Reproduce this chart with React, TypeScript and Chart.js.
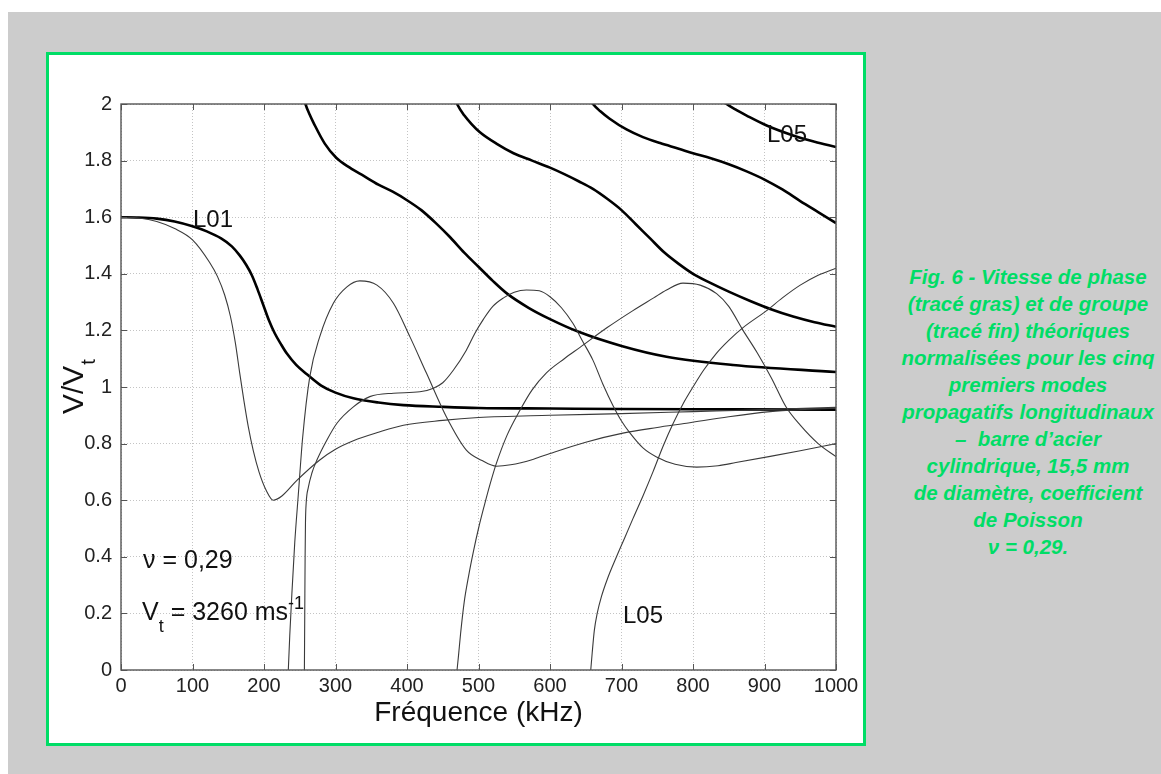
import React, { useEffect, useRef } from "react";
import { Chart, registerables } from "chart.js";

Chart.register(...registerables);

// ---------- data (frequency in kHz, normalised velocity V/Vt) ----------
// phase velocities (thick curves)
const L01_PHASE_F = [0, 25, 50, 75, 100, 120, 140, 155, 166, 175, 183, 191, 199, 207, 215, 224, 232, 245, 260, 280, 300, 325, 360, 395, 450, 500, 600, 700, 850, 1000];
const L01_PHASE_V = [1.6, 1.599, 1.595, 1.585, 1.568, 1.55, 1.525, 1.497, 1.465, 1.432, 1.395, 1.345, 1.29, 1.235, 1.19, 1.15, 1.118, 1.078, 1.045, 1.005, 0.98, 0.96, 0.945, 0.936, 0.93, 0.926, 0.924, 0.922, 0.921, 0.92];

const L02_PHASE_F = [246, 258, 264, 270, 285, 301, 320, 340, 360, 380, 400, 420, 440, 460, 480, 500, 520, 540, 570, 600, 640, 700, 763, 856, 1000];
const L02_PHASE_V = [2.12, 2.0, 1.962, 1.93, 1.86, 1.81, 1.775, 1.745, 1.715, 1.69, 1.66, 1.625, 1.58, 1.53, 1.475, 1.425, 1.375, 1.33, 1.28, 1.24, 1.195, 1.145, 1.107, 1.078, 1.053];

const L03_PHASE_F = [462, 470, 480, 490, 502, 525, 549, 575, 600, 620, 640, 660, 680, 700, 720, 740, 760, 780, 800, 825, 850, 880, 910, 940, 970, 1000];
const L03_PHASE_V = [2.05, 2.0, 1.96, 1.93, 1.9, 1.86, 1.826, 1.8, 1.775, 1.752, 1.727, 1.7, 1.665, 1.625, 1.575, 1.525, 1.475, 1.435, 1.4, 1.367, 1.337, 1.304, 1.274, 1.249, 1.229, 1.213];

const L04_PHASE_F = [652, 660, 670, 683, 707, 730, 754, 780, 800, 825, 850, 875, 900, 925, 950, 975, 1000];
const L04_PHASE_V = [2.03, 2.0, 1.975, 1.949, 1.91, 1.883, 1.862, 1.842, 1.826, 1.808, 1.787, 1.762, 1.733, 1.698, 1.657, 1.618, 1.579];

const L05_PHASE_F = [836, 847, 861, 875, 903, 940, 970, 1000];
const L05_PHASE_V = [2.025, 2.0, 1.978, 1.959, 1.924, 1.889, 1.867, 1.848];

// group velocities (thin curves)
const L01_GROUP_F = [0, 25, 50, 75, 100, 124, 135, 145, 153, 160, 166, 172, 178, 185, 193, 203, 213, 225, 246, 278, 300, 325, 360, 395, 450, 500, 600, 700, 800, 900, 1000];
const L01_GROUP_V = [1.6, 1.597, 1.585, 1.56, 1.52, 1.44, 1.39, 1.325, 1.25, 1.155, 1.05, 0.95, 0.86, 0.775, 0.7, 0.635, 0.6, 0.615, 0.67, 0.742, 0.78, 0.81, 0.84, 0.865, 0.882, 0.892, 0.9, 0.906, 0.913, 0.92, 0.928];

const L02_GROUP_F = [234, 236, 239, 243, 248, 254, 264, 278, 297, 316, 334, 358, 381, 404, 427, 455, 483, 505, 525, 545, 577, 600, 650, 702, 750, 791, 850, 908, 950, 1000];
const L02_GROUP_V = [0, 0.12, 0.27, 0.45, 0.62, 0.82, 1.036, 1.178, 1.296, 1.354, 1.375, 1.36, 1.296, 1.178, 1.05, 0.895, 0.777, 0.74, 0.72, 0.725, 0.745, 0.765, 0.805, 0.837, 0.857, 0.872, 0.895, 0.913, 0.92, 0.925];

const L03_GROUP_F = [256.5, 257, 257.5, 258, 259, 262, 267, 274, 288, 302, 325, 348, 381, 418, 437, 450, 465, 483, 495, 507, 520, 535, 550, 567, 585, 600, 616, 632, 646, 660, 674, 688, 700, 712, 730, 749, 775, 805, 835, 860, 908, 950, 1000];
const L03_GROUP_V = [0, 0.2, 0.4, 0.52, 0.59, 0.645, 0.696, 0.742, 0.813, 0.872, 0.93, 0.966, 0.978, 0.983, 0.996, 1.015, 1.06, 1.13, 1.19, 1.24, 1.285, 1.315, 1.335, 1.343, 1.34, 1.319, 1.28, 1.225, 1.16, 1.095, 1.01, 0.935, 0.88, 0.837, 0.785, 0.753, 0.727, 0.717, 0.722, 0.733, 0.755, 0.775, 0.8];

const L04_GROUP_F = [470, 472, 475, 480, 486, 493, 500, 508, 516, 525, 540, 558, 575, 595, 620, 642, 680, 716, 745, 763, 786, 810, 833, 850, 870, 890, 910, 930, 950, 975, 1000];
const L04_GROUP_V = [0, 0.05, 0.13, 0.24, 0.33, 0.42, 0.5, 0.58, 0.655, 0.73, 0.83, 0.918, 0.99, 1.05, 1.1, 1.14, 1.21, 1.27, 1.315, 1.343, 1.367, 1.36, 1.33, 1.285, 1.2, 1.12, 1.03, 0.93, 0.865, 0.8, 0.754];

const L05_GROUP_F = [657, 659, 662, 666, 672, 680, 693, 705, 716, 730, 744, 758, 772, 786, 800, 815, 833, 850, 870, 903, 925, 950, 975, 1000];
const L05_GROUP_V = [0, 0.06, 0.14, 0.2, 0.26, 0.32, 0.4, 0.47, 0.535, 0.615, 0.7, 0.79, 0.87, 0.94, 1.0, 1.06, 1.12, 1.165, 1.21, 1.27, 1.315, 1.36, 1.395, 1.42];

// axes
const X_MIN = 0, X_MAX = 1000, X_STEP = 100;
const Y_MIN = 0, Y_MAX = 2, Y_STEP = 0.2;
const X_TITLE = "Fréquence (kHz)";

const CAPTION_LINES = [
  "Fig. 6 - Vitesse de phase",
  "(tracé gras) et de groupe",
  "(tracé fin) théoriques",
  "normalisées pour les cinq",
  "premiers modes",
  "propagatifs longitudinaux",
  "–  barre d’acier",
  "cylindrique, 15,5 mm",
  "de diamètre, coefficient",
  "de Poisson",
  "ν = 0,29.",
];

const FONT = "'Liberation Sans', Arial, Helvetica, sans-serif";
const GREEN = "#00dd66";

const zip = (f: number[], v: number[]) => f.map((x, i) => ({ x, y: v[i] }));

const thin = (label: string, f: number[], v: number[]) => ({
  label,
  data: zip(f, v),
  borderColor: "#3a3a3a",
  borderWidth: 1.1,
  pointRadius: 0,
  cubicInterpolationMode: "monotone" as const,
});
const thick = (label: string, f: number[], v: number[]) => ({
  label,
  data: zip(f, v),
  borderColor: "#000000",
  borderWidth: 2.6,
  pointRadius: 0,
  cubicInterpolationMode: "monotone" as const,
});

const decorPlugin = {
  id: "decor",
  afterDatasetsDraw(chart: any) {
    const { ctx, chartArea: a, scales } = chart;
    const x = scales.x, y = scales.y;
    ctx.save();
    // inner tick marks on all four sides
    ctx.strokeStyle = "#555";
    ctx.lineWidth = 1;
    ctx.beginPath();
    for (const t of x.ticks) {
      const px = Math.round(x.getPixelForValue(t.value)) + 0.5;
      ctx.moveTo(px, a.bottom); ctx.lineTo(px, a.bottom - 6);
      ctx.moveTo(px, a.top); ctx.lineTo(px, a.top + 6);
    }
    for (const t of y.ticks) {
      const py = Math.round(y.getPixelForValue(t.value)) + 0.5;
      ctx.moveTo(a.left, py); ctx.lineTo(a.left + 6, py);
      ctx.moveTo(a.right, py); ctx.lineTo(a.right - 6, py);
    }
    ctx.stroke();
    // box
    ctx.strokeStyle = "#555";
    ctx.lineWidth = 1.4;
    ctx.strokeRect(a.left, a.top, a.right - a.left, a.bottom - a.top);

    // annotations anchored on data coordinates
    const P = (f: number, v: number) => [x.getPixelForValue(f), y.getPixelForValue(v)];
    ctx.fillStyle = "#111";
    ctx.textBaseline = "alphabetic";
    ctx.textAlign = "left";
    ctx.font = `24px ${FONT}`;
    let [px, py] = P(100.7, 1.565);
    ctx.fillText("L01", px, py);
    [px, py] = P(903.5, 1.866);
    ctx.fillText("L05", px, py);
    [px, py] = P(702, 0.166);
    ctx.fillText("L05", px, py);

    ctx.font = `25px ${FONT}`;
    [px, py] = P(30.8, 0.36);
    ctx.fillText("ν = 0,29", px, py);

    [px, py] = P(29.4, 0.177);
    ctx.fillText("V", px, py);
    const w = ctx.measureText("V").width;
    ctx.font = `18px ${FONT}`;
    ctx.fillText("t", px + w, py + 12);
    const wt = ctx.measureText("t").width;
    ctx.font = `25px ${FONT}`;
    const rest = " = 3260 ms";
    ctx.fillText(rest, px + w + wt, py);
    const wr = ctx.measureText(rest).width;
    ctx.font = `18px ${FONT}`;
    ctx.fillText("-1", px + w + wt + wr, py - 11);

    // y axis title V/V_t (rotated)
    const cy = (a.top + a.bottom) / 2;
    ctx.save();
    ctx.translate(a.left - 38, cy + 27);
    ctx.rotate(-Math.PI / 2);
    ctx.font = `30px ${FONT}`;
    ctx.fillText("V/V", 0, 0);
    const wv = ctx.measureText("V/V").width;
    ctx.font = `20px ${FONT}`;
    ctx.fillText("t", wv + 1, 12);
    ctx.restore();

    ctx.restore();
  },
};

export default function App() {
  const ref = useRef<HTMLCanvasElement | null>(null);

  useEffect(() => {
    document.body.style.overflow = "hidden";
    const canvas = ref.current;
    if (!canvas) return;
    const chart = new Chart(canvas, {
      type: "line",
      data: {
        datasets: [
          thin("L01 groupe", L01_GROUP_F, L01_GROUP_V),
          thin("L02 groupe", L02_GROUP_F, L02_GROUP_V),
          thin("L03 groupe", L03_GROUP_F, L03_GROUP_V),
          thin("L04 groupe", L04_GROUP_F, L04_GROUP_V),
          thin("L05 groupe", L05_GROUP_F, L05_GROUP_V),
          thick("L01 phase", L01_PHASE_F, L01_PHASE_V),
          thick("L02 phase", L02_PHASE_F, L02_PHASE_V),
          thick("L03 phase", L03_PHASE_F, L03_PHASE_V),
          thick("L04 phase", L04_PHASE_F, L04_PHASE_V),
          thick("L05 phase", L05_PHASE_F, L05_PHASE_V),
        ],
      },
      options: {
        animation: false,
        responsive: false,
        devicePixelRatio: 1,
        layout: { padding: { left: 0, top: 49, right: 27, bottom: 0 } },
        plugins: { legend: { display: false }, tooltip: { enabled: false } },
        elements: { point: { radius: 0 } },
        scales: {
          x: {
            type: "linear",
            min: X_MIN,
            max: X_MAX,
            afterFit: (s: any) => { s.height = 73; },
            ticks: {
              stepSize: X_STEP,
              autoSkip: false,
              maxRotation: 0,
              padding: 4,
              color: "#222",
              font: { family: FONT, size: 20 },
              callback: (v: any) => String(Math.round(Number(v))),
            },
            grid: { color: "#c4c4c4", drawTicks: false, lineWidth: 1 },
            border: { display: false, dash: [1, 2] },
            title: {
              display: true,
              text: X_TITLE,
              color: "#111",
              font: { family: FONT, size: 28 },
              padding: { top: 0, bottom: 13 },
            },
          },
          y: {
            type: "linear",
            min: Y_MIN,
            max: Y_MAX,
            afterFit: (s: any) => { s.width = 72; },
            ticks: {
              stepSize: Y_STEP,
              autoSkip: false,
              padding: 9,
              color: "#222",
              font: { family: FONT, size: 20 },
              callback: (v: any) => String(Math.round(Number(v) * 10) / 10),
            },
            grid: { color: "#c4c4c4", drawTicks: false, lineWidth: 1 },
            border: { display: false, dash: [1, 2] },
          },
        },
      } as any,
      plugins: [decorPlugin],
    });
    return () => chart.destroy();
  }, []);

  return (
    <div style={{ position: "absolute", left: 0, top: 0, width: 1161, height: 774, overflow: "hidden", background: "#fff" }}>
      <div style={{ position: "absolute", left: 8, top: 12, width: 1153, height: 762, background: "#cccccc" }} />
      <div
        style={{
          position: "absolute",
          left: 46,
          top: 52,
          width: 820,
          height: 694,
          boxSizing: "border-box",
          border: `3px solid ${GREEN}`,
          background: "#fff",
        }}
      >
        <canvas ref={ref} width={814} height={688} style={{ display: "block", width: 814, height: 688 }} />
      </div>
      <div
        style={{
          position: "absolute",
          left: 878,
          top: 263,
          width: 300,
          textAlign: "center",
          color: GREEN,
          fontFamily: FONT,
          fontWeight: "bold",
          fontStyle: "italic",
          fontSize: 20.5,
          lineHeight: "27px",
          whiteSpace: "pre",
        }}
      >
        {CAPTION_LINES.map((l, i) => (
          <div key={i}>{l}</div>
        ))}
      </div>
    </div>
  );
}
